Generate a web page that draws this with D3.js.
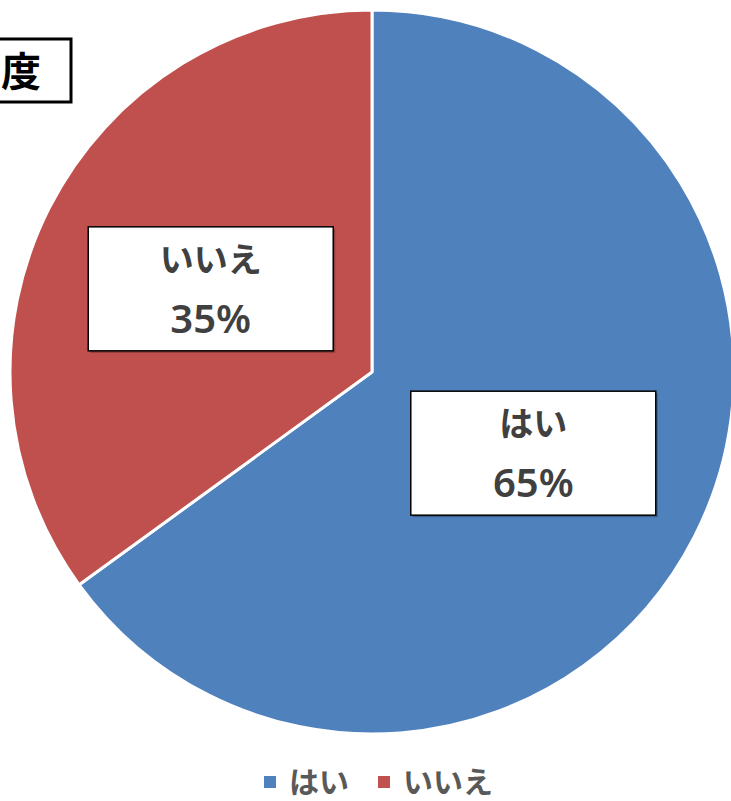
<!DOCTYPE html>
<html>
<head>
<meta charset="utf-8">
<script src="https://cdn.jsdelivr.net/npm/d3@7"></script>
<style>
  body { margin: 0; background: #fff; }
  text { font-family: "Noto Sans CJK JP", sans-serif; font-weight: bold; }
</style>
</head>
<body>
<div id="chart"></div>
<script>
const wh = 731,
    ht = 801;

const categories = ["はい", "いいえ"]
const values = [65, 35]
const colors = ["#4F81BD", "#C0504D"]
const title = "度"

const cx = 372, cy = 372, r = 362

const svg = d3.select("#chart")
    .append("svg")
    .attr("width", wh)
    .attr("height", ht)

const data = categories.map(function(c, i) { return {name: c, value: values[i], color: colors[i]} })

const pie = d3.pie()
    .sort(null)
    .value(function(d) { return d.value })

const arc = d3.arc()
    .innerRadius(0)
    .outerRadius(r)

const g = svg.append("g")
    .attr("transform", "translate(" + cx + "," + cy + ")")

const arcs = pie(data)

g.selectAll("path")
    .data(arcs)
    .enter()
    .append("path")
    .attr("d", arc)
    .attr("fill", function(d) { return d.data.color })
    .attr("stroke", "#fff")
    .attr("stroke-width", 3)
    .attr("stroke-linejoin", "round")

// label boxes
const bw = 245, bh = 124

const lab = g.selectAll(".lab")
    .data(arcs)
    .enter()
    .append("g")
    .attr("class", "lab")
    .attr("transform", function(d) {
        const c = arc.centroid(d)
        return "translate(" + c[0] + "," + (c[1] - 1) + ")"
    })

lab.append("rect")
    .attr("x", -bw / 2 + 2)
    .attr("y", -bh / 2 + 2)
    .attr("width", bw)
    .attr("height", bh)
    .attr("fill", "rgba(0,0,0,0.25)")

lab.append("rect")
    .attr("x", -bw / 2)
    .attr("y", -bh / 2)
    .attr("width", bw)
    .attr("height", bh)
    .attr("fill", "#fff")
    .attr("stroke", "#000")
    .attr("stroke-width", 1.5)

lab.append("text")
    .attr("text-anchor", "middle")
    .attr("y", -17)
    .attr("font-size", 34)
    .attr("fill", "#404040")
    .text(function(d) { return d.data.name })

lab.append("text")
    .attr("text-anchor", "middle")
    .attr("y", 44)
    .attr("font-size", 40)
    .attr("fill", "#404040")
    .style("font-family", "'Noto Sans', sans-serif")
    .style("font-weight", 600)
    .text(function(d) { return d.data.value + "%" })

// title box (cut off on the left)
svg.append("rect")
    .attr("x", -10)
    .attr("y", 39)
    .attr("width", 81)
    .attr("height", 63)
    .attr("fill", "#fff")
    .attr("stroke", "#000")
    .attr("stroke-width", 3)

svg.append("text")
    .attr("x", 1)
    .attr("y", 86)
    .attr("font-size", 40)
    .attr("fill", "#000")
    .text(title)

// legend
const legendX = [264, 378]

const legend = svg.selectAll(".legend")
    .data(data)
    .enter()
    .append("g")
    .attr("class", "legend")
    .attr("transform", function(d, i) { return "translate(" + legendX[i] + ",776)" })

legend.append("rect")
    .attr("width", 12)
    .attr("height", 12)
    .attr("fill", function(d) { return d.color })

legend.append("text")
    .attr("x", 25)
    .attr("y", 17)
    .attr("font-size", 30)
    .attr("fill", "#595959")
    .text(function(d) { return d.name })
</script>
</body>
</html>
